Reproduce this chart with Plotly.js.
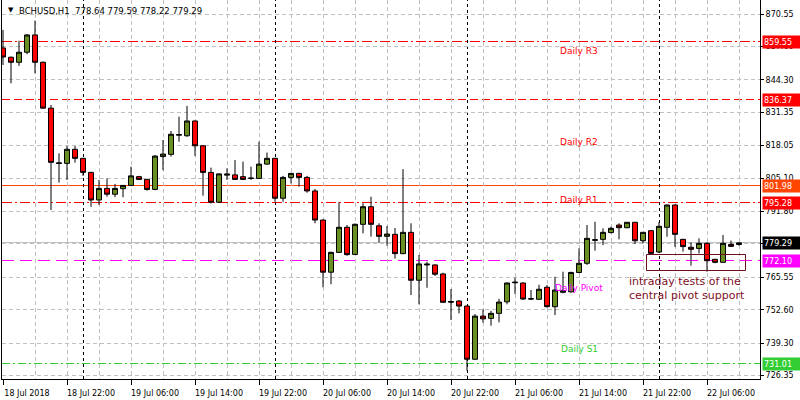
<!DOCTYPE html>
<html>
<head>
<meta charset="utf-8">
<script src="https://cdn.plot.ly/plotly-3.0.1.min.js"></script>
<style>html,body{margin:0;padding:0;background:#fff}#chart{width:800px;height:400px}</style>
</head>
<body>
<div id="chart"></div>
<script>
// ---- data (BCHUSD, H1, first bar 18 Jul 2018 14:00) ----
var startHour = "2018-07-18 14:00";
var openP = [857.0, 853.3, 851.3, 855.3, 862.2, 851.3, 833.0, 811.2, 811.0, 816.6,
 813.0, 807.4, 796.4, 801.0, 798.7, 800.9, 802.2, 805.7, 804.6, 800.6,
 813.7, 814.6, 822.2, 822.0, 827.9, 818.0, 807.4, 795.5, 806.3, 806.4,
 805.7, 805.0, 805.0, 810.7, 813.0, 797.1, 805.4, 807.0, 805.4, 800.0,
 788.4, 767.6, 775.5, 785.5, 774.7, 786.7, 793.7, 786.1, 781.9, 782.7,
 775.0, 783.5, 764.4, 770.5, 770.5, 766.9, 755.9, 756.1, 754.1, 732.9,
 750.1, 749.2, 751.2, 755.8, 763.4, 763.3, 756.9, 756.8, 761.6, 753.85,
 759.6, 759.8, 767.5, 771.15, 780.3, 780.7, 783.4, 786.4, 785.35, 787.5,
 780.15, 784.15, 775.65, 785.5, 794.4, 780.7, 777.55, 777.1, 779.1, 772.75,
 771.55, 778.7, 778.64];
var highP = [864.2, 853.6, 859.9, 862.6, 867.9, 851.6, 834.3, 815.0, 817.9, 817.9,
 813.2, 807.6, 804.4, 805.0, 802.8, 802.3, 809.7, 806.0, 804.8, 814.3,
 820.3, 823.9, 829.6, 833.9, 828.1, 818.2, 809.3, 807.0, 809.0, 812.3,
 811.7, 809.7, 819.6, 815.3, 813.2, 806.0, 807.2, 807.2, 806.0, 800.8,
 788.6, 775.8, 795.5, 786.4, 787.0, 795.1, 797.7, 787.1, 786.0, 785.2,
 808.7, 787.1, 774.5, 771.8, 770.7, 767.4, 760.9, 756.5, 754.3, 750.9,
 752.8, 752.2, 757.0, 763.5, 765.4, 763.5, 760.5, 762.6, 762.5, 765.8,
 767.8, 767.8, 777.1, 786.4, 787.7, 785.1, 785.75, 787.1, 787.6, 787.6,
 783.6, 784.3, 787.6, 794.6, 794.6, 780.9, 779.5, 781.1, 779.5, 772.9,
 782.45, 780.2, 779.59];
var lowP = [850.2, 842.9, 849.9, 854.5, 846.9, 832.8, 792.4, 803.3, 804.4, 811.3,
 806.0, 793.7, 794.4, 797.7, 797.5, 797.5, 802.0, 804.4, 800.1, 800.3,
 808.3, 813.7, 819.6, 821.6, 814.0, 798.1, 795.0, 795.3, 804.4, 804.4,
 804.4, 804.4, 805.0, 810.5, 795.7, 795.7, 803.0, 801.7, 799.3, 787.1,
 761.6, 762.8, 775.3, 774.2, 774.5, 783.1, 781.8, 779.4, 778.2, 773.0,
 774.8, 758.5, 754.8, 761.4, 766.1, 755.4, 748.5, 751.2, 728.3, 732.7,
 747.5, 746.3, 747.6, 754.8, 758.9, 756.5, 756.5, 756.5, 753.5, 750.5,
 759.2, 759.4, 767.2, 770.5, 776.2, 778.4, 783.1, 780.7, 785.1, 778.85,
 779.1, 774.9, 775.2, 781.75, 777.65, 775.8, 770.2, 775.1, 767.8, 771.15,
 771.4, 777.8, 778.22];
var closeP = [853.4, 851.3, 855.3, 862.2, 851.3, 833.0, 811.4, 811.0, 816.6, 813.0,
 807.4, 796.4, 801.0, 798.7, 801.0, 802.2, 806.0, 804.6, 800.6, 813.9,
 814.7, 822.6, 822.5, 827.9, 818.0, 807.4, 795.5, 806.8, 806.7, 804.6,
 804.6, 805.1, 810.7, 813.0, 797.1, 805.4, 807.0, 805.4, 800.0, 788.4,
 767.6, 775.5, 785.5, 774.6, 786.7, 793.7, 786.7, 781.9, 782.8, 775.0,
 783.5, 764.4, 770.9, 770.8, 766.8, 755.6, 755.7, 754.1, 732.9, 750.1,
 749.0, 751.2, 755.7, 763.3, 763.6, 756.9, 757.0, 760.8, 753.85, 760.5,
 760.2, 767.5, 771.15, 781.1, 780.55, 783.5, 785.1, 785.35, 787.5, 780.15,
 783.5, 775.1, 785.9, 794.4, 782.7, 777.8, 776.75, 779.1, 772.2, 771.55,
 779.1, 777.9, 779.29];

var xTickLabels = ["18 Jul 2018","18 Jul 22:00","19 Jul 06:00","19 Jul 14:00","19 Jul 22:00",
 "20 Jul 06:00","20 Jul 14:00","20 Jul 22:00","21 Jul 06:00","21 Jul 14:00","21 Jul 22:00","22 Jul 06:00"];
var yTickVals = [870.55, 857.60, 844.30, 831.35, 818.05, 805.10, 791.80, 778.85, 765.55, 752.60, 739.30, 726.35];
// 778.85 sits under the current-price box in the original, so its text is hidden
var yTickText = ["870.55", "857.60", "844.30", "831.35", "818.05", "805.10", "791.80", "", "765.55", "752.60", "739.30", "726.35"];

var levelNames  = ["Daily R3", "Daily R2", "", "Daily R1", "", "Daily Pivot", "Daily S1"];
var levelValues = [859.55, 836.37, 801.98, 795.28, 779.29, 772.10, 731.01];
var levelColors = ["#FF0000", "#FF0000", "#FF4500", "#FF0000", "#C0C0C0", "#FF00FF", "#32CD32"];
var levelBoxColors = ["#FF0000", "#FF0000", "#FF4500", "#FF0000", "#000000", "#FF00FF", "#32CD32"];
var levelDash   = ["10px,3px,2px,3px", "8px,4px", "solid", "10px,3px,2px,3px", "solid", "12px,6px", "8px,3px,2px,3px"];
var levelTextPrice = [855.8, 819.5, null, 796.4, null, 761.3, 737.0];

var noteText = "intraday tests of the<br>central pivot support";

// ---- geometry helpers ----
var Y_MIN = 725.02, Y_MAX = 876.13, PLOT_H = 379;
var X_LO = -0.125, X_HI = 94.625, PLOT_W = 758;
var t0 = Date.parse(startHour.replace(" ", "T") + ":00Z");
function tAt(h) {
  return new Date(t0 + Math.round(h * 3600000)).toISOString().slice(0, 19).replace("T", " ");
}
// snap a horizontal line to a pixel centre so that it is drawn crisp
function snapY(v) {
  var px = (Y_MAX - v) * PLOT_H / (Y_MAX - Y_MIN);
  var s = Math.floor(px) + 0.5;
  return Y_MAX - s * (Y_MAX - Y_MIN) / PLOT_H;
}
function snapXh(h) {
  var px = (h - X_LO) * PLOT_W / (X_HI - X_LO);
  var s = Math.floor(px) + 0.5;
  return X_LO + s * (X_HI - X_LO) / PLOT_W;
}

var times = openP.map(function (_, i) { return tAt(i); });
var n = times.length;

var xTickVals = xTickLabels.map(function (_, i) { return times[i * 8]; });
var xGridVals = [];
for (var i = 0; i < n; i += 4) xGridVals.push(times[i]);
var daySepIdx = [];
times.forEach(function (s, i) { if (s.slice(11, 16) === "00:00") daySepIdx.push(i); });

var GRID = "#C0C0C0";
var FONT = "DejaVu Sans";

var trace = {
  type: "candlestick",
  x: times, open: openP, high: highP, low: lowP, close: closeP,
  increasing: { line: { color: "#000000", width: 1 }, fillcolor: "#6B8E23" },
  decreasing: { line: { color: "#000000", width: 1 }, fillcolor: "#FF0000" },
  whiskerwidth: 0,
  hoverinfo: "skip",
  showlegend: false
};

var shapes = [];
levelValues.forEach(function (v, i) {
  var y = snapY(v);
  shapes.push({
    type: "line", xref: "paper", x0: 0, x1: 1, yref: "y", y0: y, y1: y,
    layer: "below",
    line: { color: levelColors[i], width: 1, dash: levelDash[i] }
  });
});
daySepIdx.forEach(function (k) {
  var d = tAt(snapXh(k));
  shapes.push({
    type: "line", xref: "x", x0: d, x1: d, yref: "paper", y0: 0, y1: 1,
    layer: "below",
    line: { color: "#000000", width: 1, dash: "3px,3px" }
  });
});
// box around the pivot tests
shapes.push({
  type: "rect", xref: "x", yref: "y",
  x0: tAt(snapXh(80.46)), x1: tAt(snapXh(92.75)), y0: snapY(768.1), y1: snapY(774.5),
  layer: "above",
  line: { color: "#6B0F1A", width: 1 }, fillcolor: "rgba(0,0,0,0)"
});

var annotations = [];
// price boxes on the right
levelValues.forEach(function (v, i) {
  annotations.push({
    xref: "paper", x: 1, xanchor: "left", xshift: 2,
    yref: "y", y: v, yanchor: "middle",
    text: v.toFixed(2), showarrow: false, align: "left",
    bgcolor: levelBoxColors[i], borderpad: 1, width: 36, height: 10,
    font: { family: FONT, size: 8, color: "#FFFFFF" }
  });
});
// level names
levelNames.forEach(function (s, i) {
  if (!s) return;
  annotations.push({
    xref: "x", x: tAt(72), xanchor: "center",
    yref: "y", y: levelTextPrice[i], yanchor: "middle",
    text: s, showarrow: false,
    font: { family: FONT, size: 9, color: levelColors[i] }
  });
});
// title
annotations.push({
  xref: "paper", x: 0, xanchor: "left", xshift: 4,
  yref: "paper", y: 1, yanchor: "middle", yshift: -10,
  text: "\u25BC", showarrow: false,
  font: { family: FONT, size: 7, color: "#000000" }
});
annotations.push({
  xref: "paper", x: 0, xanchor: "left", xshift: 15,
  yref: "paper", y: 1, yanchor: "middle", yshift: -11,
  text: "BCHUSD,H1  " + [openP[n-1], highP[n-1], lowP[n-1], closeP[n-1]].map(function (v) { return v.toFixed(2); }).join(" "),
  showarrow: false,
  font: { family: FONT, size: 8.5, color: "#000000" }
});
// note
annotations.push({
  xref: "x", x: tAt(78), xanchor: "left",
  yref: "y", y: 767.4, yanchor: "top",
  text: noteText, showarrow: false, align: "left",
  font: { family: FONT, size: 11, color: "#7F0F25" }
});

var layout = {
  width: 800, height: 400,
  margin: { l: 2, r: 40, t: 0, b: 21, pad: 0 },
  paper_bgcolor: "#FFFFFF", plot_bgcolor: "#FFFFFF",
  showlegend: false,
  boxgap: 0.375, boxgroupgap: 0,
  xaxis: {
    type: "date",
    range: [tAt(X_LO), tAt(X_HI)],
    rangeslider: { visible: false },
    tickmode: "array", tickvals: xTickVals, ticktext: xTickLabels,
    ticks: "outside", ticklen: 5, tickcolor: "#000000", tickwidth: 1,
    ticklabelshift: 24, ticklabelstandoff: 1,
    tickfont: { family: FONT, size: 8, color: "#000000" },
    showgrid: true, gridcolor: GRID, griddash: "4px,3px", gridwidth: 1,
    minor: { tickmode: "array", tickvals: xGridVals, showgrid: true, gridcolor: GRID, griddash: "4px,3px", gridwidth: 1, ticks: "" },
    showline: true, linecolor: "#000000", linewidth: 1, mirror: true,
    zeroline: false, fixedrange: true
  },
  yaxis: {
    side: "right",
    range: [Y_MIN, Y_MAX],
    tickmode: "array", tickvals: yTickVals, ticktext: yTickText,
    ticks: "outside", ticklen: 3, tickcolor: "#000000", tickwidth: 1,
    tickfont: { family: FONT, size: 8, color: "#000000" },
    showgrid: true, gridcolor: GRID, griddash: "4px,3px", gridwidth: 1,
    showline: true, linecolor: "#000000", linewidth: 1, mirror: true,
    zeroline: false, fixedrange: true
  },
  shapes: shapes,
  annotations: annotations
};

Plotly.newPlot("chart", [trace], layout, { displayModeBar: false, staticPlot: true });
</script>
</body>
</html>
